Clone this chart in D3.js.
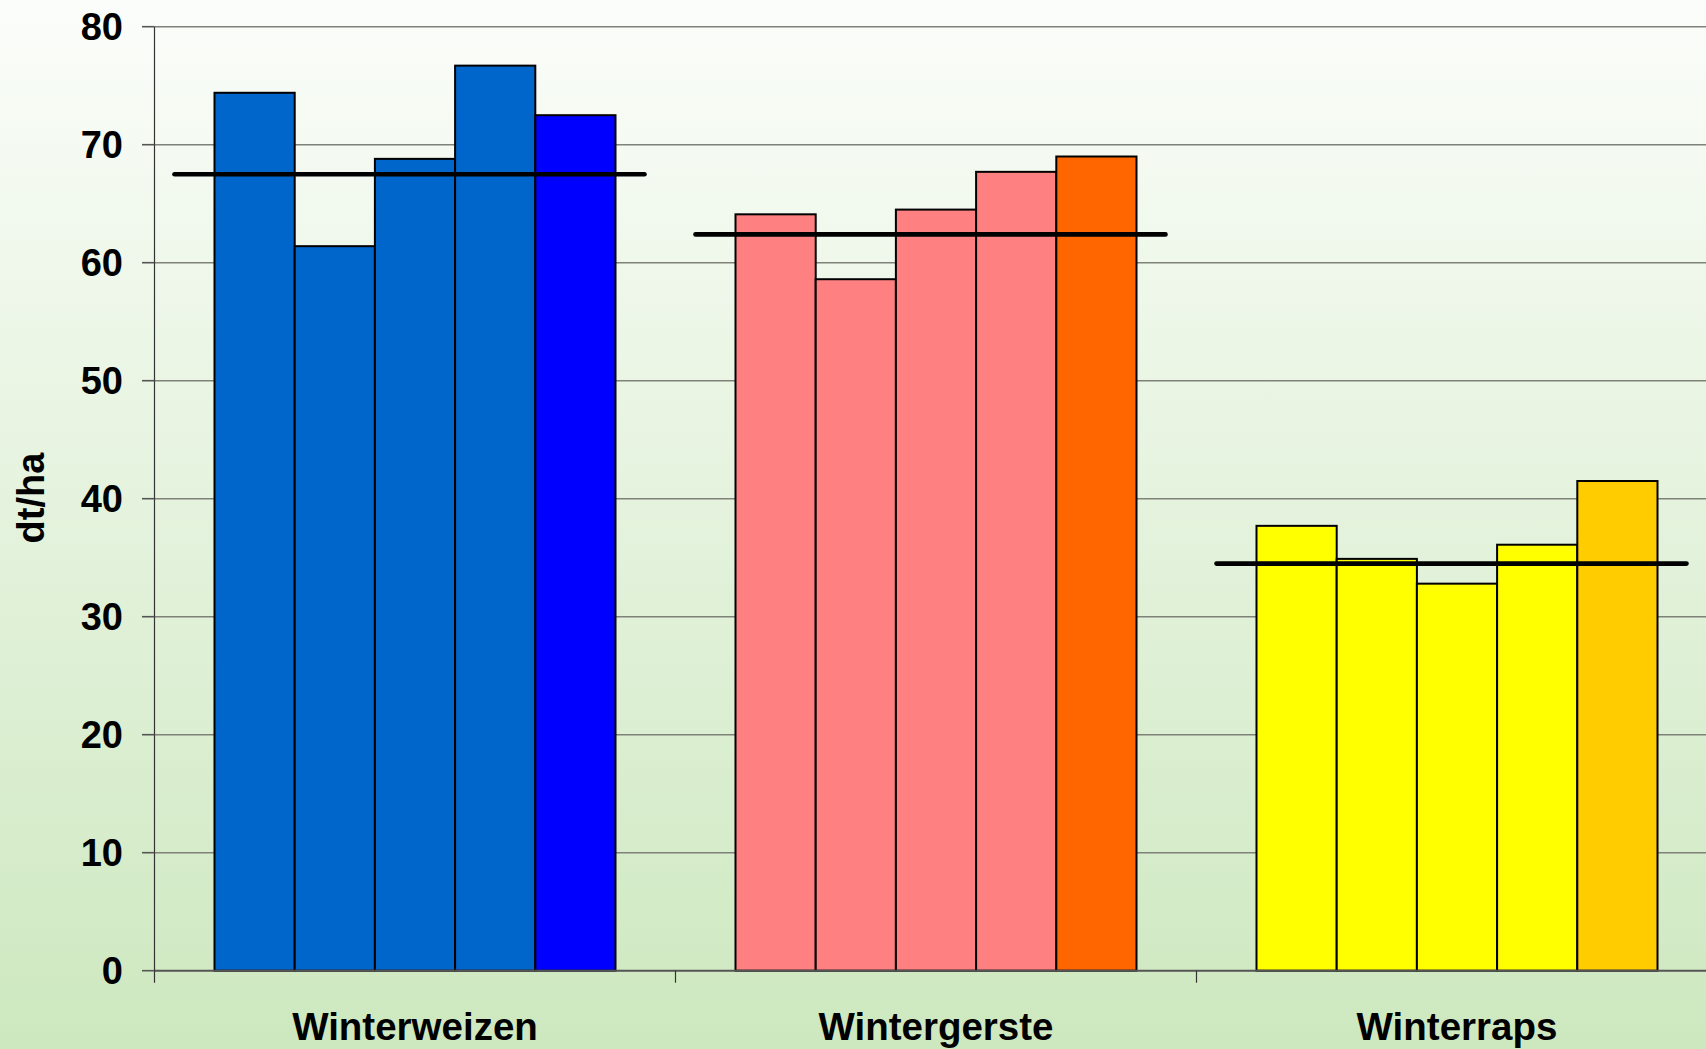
<!DOCTYPE html>
<html>
<head>
<meta charset="utf-8">
<script src="https://cdn.jsdelivr.net/npm/d3@7"></script>
<style>
  html, body { margin: 0; padding: 0; overflow: hidden; }
  svg { display: block; }
  text { font-family: "Liberation Sans", Arial, sans-serif; font-weight: bold; fill: #000; }
</style>
</head>
<body>
<script>
// ---- data ----
const categories = ["Winterweizen", "Wintergerste", "Winterraps"];
const seriesIndex = [0, 1, 2, 3, 4];
const weizen = [74.4, 61.4, 68.8, 76.7, 72.5];
const gerste = [64.1, 58.6, 64.5, 67.7, 69.0];
const raps   = [37.7, 34.9, 32.8, 36.1, 41.5];
const means  = [67.5, 62.4, 34.5];
const yTicks = [0, 10, 20, 30, 40, 50, 60, 70, 80];
const yTitle = "dt/ha";
const colorsWeizen = ["#0066CC", "#0066CC", "#0066CC", "#0066CC", "#0000FF"];
const colorsGerste = ["#FF8080", "#FF8080", "#FF8080", "#FF8080", "#FF6600"];
const colorsRaps   = ["#FFFF00", "#FFFF00", "#FFFF00", "#FFFF00", "#FFCC00"];

const values = [weizen, gerste, raps];
const colors = [colorsWeizen, colorsGerste, colorsRaps];

// ---- layout ----
const W = 1706, H = 1049;
const svg = d3.select("body").append("svg").attr("width", W).attr("height", H);

const defs = svg.append("defs");
const grad = defs.append("linearGradient").attr("id", "bg")
  .attr("x1", 0).attr("y1", 0).attr("x2", 0).attr("y2", 1);
grad.append("stop").attr("offset", "0%").attr("stop-color", "#fbfdfa");
grad.append("stop").attr("offset", "100%").attr("stop-color", "#cde8bf");
svg.append("rect").attr("width", W).attr("height", H).attr("fill", "url(#bg)");

const x0 = d3.scaleBand().domain(categories).range([154.5, 1717.5]).paddingInner(0).paddingOuter(0);
const bw = x0.bandwidth();
const x1 = d3.scaleBand().domain(seriesIndex).range([60, 461]).padding(0);
const y = d3.scaleLinear().domain([0, 80]).range([970.7, 26.7]);

// gridlines
svg.append("g").selectAll("line").data(yTicks.filter(d => d > 0)).join("line")
  .attr("x1", 154.5).attr("x2", 1717.5)
  .attr("y1", d => y(d)).attr("y2", d => y(d))
  .attr("stroke", "#7f8278").attr("stroke-width", 1.6);

// bars
const groups = svg.append("g").selectAll("g").data(categories).join("g")
  .attr("transform", d => `translate(${x0(d)},0)`);
groups.each(function(cat, ci) {
  d3.select(this).selectAll("rect").data(values[ci]).join("rect")
    .attr("x", (d, i) => x1(i))
    .attr("width", x1.bandwidth())
    .attr("y", d => y(d))
    .attr("height", d => y(0) - y(d))
    .attr("fill", (d, i) => colors[ci][i])
    .attr("stroke", "#000").attr("stroke-width", 2);
});

// x axis line at 0
svg.append("line").attr("x1", 154.5).attr("x2", 1717.5)
  .attr("y1", y(0)).attr("y2", y(0))
  .attr("stroke", "#555").attr("stroke-width", 2);

// mean lines
svg.append("g").selectAll("line").data(means).join("line")
  .attr("x1", (d, i) => x0(categories[i]) + 20)
  .attr("x2", (d, i) => x0(categories[i]) + 490)
  .attr("y1", d => y(d)).attr("y2", d => y(d))
  .attr("stroke", "#000").attr("stroke-width", 4.6).attr("stroke-linecap", "round");

// y axis
svg.append("line").attr("x1", 154.5).attr("x2", 154.5)
  .attr("y1", y(80)).attr("y2", y(0) + 12)
  .attr("stroke", "#333").attr("stroke-width", 1.2);
const yt = svg.append("g");
yt.selectAll("line").data(yTicks).join("line")
  .attr("x1", 142).attr("x2", 154.5)
  .attr("y1", d => y(d)).attr("y2", d => y(d))
  .attr("stroke", "#555").attr("stroke-width", 1.6);
yt.selectAll("text").data(yTicks).join("text")
  .attr("x", 123).attr("y", d => y(d)).attr("dy", "0.36em")
  .attr("text-anchor", "end").attr("font-size", 38)
  .text(d => d);

// category ticks
svg.append("g").selectAll("line").data(categories.slice(1)).join("line")
  .attr("x1", d => x0(d)).attr("x2", d => x0(d))
  .attr("y1", y(0)).attr("y2", y(0) + 12)
  .attr("stroke", "#333").attr("stroke-width", 1.2);

// category labels
svg.append("g").selectAll("text").data(categories).join("text")
  .attr("x", d => x0(d) + bw / 2).attr("y", 1040)
  .attr("text-anchor", "middle").attr("font-size", 38.5)
  .text(d => d);

// y title
svg.append("text").attr("transform", "translate(44,498) rotate(-90)")
  .attr("text-anchor", "middle").attr("font-size", 38)
  .text(yTitle);
</script>
</body>
</html>
